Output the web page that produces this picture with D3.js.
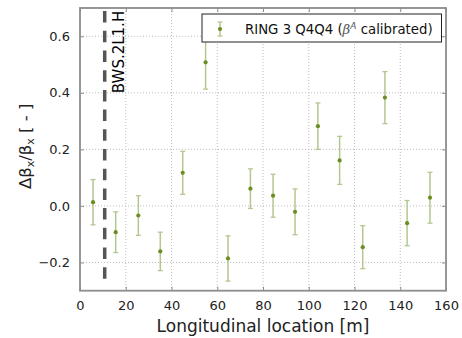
<!DOCTYPE html>
<html><head><meta charset="utf-8">
<script src="https://cdn.jsdelivr.net/npm/d3@7"></script>
<style>body{margin:0;background:#fff;} svg{display:block;font-family:"DejaVu Sans",sans-serif;}</style>
</head><body>
<svg id="c" width="462" height="338"></svg>
<script>
const locations = [5.7, 15.6, 25.5, 35.1, 44.9, 54.9, 64.7, 74.5, 84.4, 94.0, 104.0, 113.5, 123.6, 133.3, 143.0, 153.0];
const values = [0.013, -0.093, -0.034, -0.161, 0.117, 0.508, -0.186, 0.061, 0.036, -0.021, 0.282, 0.161, -0.146, 0.383, -0.061, 0.029];
const errors = [0.080, 0.072, 0.070, 0.068, 0.076, 0.095, 0.080, 0.070, 0.076, 0.081, 0.082, 0.085, 0.076, 0.092, 0.080, 0.090];
const xTicks = [0, 20, 40, 60, 80, 100, 120, 140, 160];
const yTicks = [-0.2, 0.0, 0.2, 0.4, 0.6];
const markerLocation = 10.8;
const markerLabel = "BWS.2L1.H";
const seriesName = "RING 3 Q4Q4";

const svg = d3.select("#c");
const L = 80, R = 446, T = 8, B = 290.7;
const x = d3.scaleLinear().domain([0, 160]).range([L, R]);
const y = d3.scaleLinear().domain([-0.3, 0.7]).range([B, T]);
const col = "#6b8e23";
const errCol = "#b3c78f";
const spine = "#8c8c8c";

// grid
const g = svg.append("g");
g.selectAll(".gx").data(xTicks.slice(1, -1)).join("line")
  .attr("x1", d => x(d)).attr("x2", d => x(d)).attr("y1", T).attr("y2", B)
  .attr("stroke", "#bdbdbd").attr("stroke-width", 1).attr("stroke-dasharray", "1,2");
g.selectAll(".gy").data(yTicks).join("line")
  .attr("y1", d => y(d)).attr("y2", d => y(d)).attr("x1", L).attr("x2", R)
  .attr("stroke", "#bdbdbd").attr("stroke-width", 1).attr("stroke-dasharray", "1,2");

// axes with inward ticks
const xa = svg.append("g").attr("transform", `translate(0,${B})`)
  .call(d3.axisBottom(x).tickValues(xTicks).tickSizeInner(-4).tickSizeOuter(0).tickPadding(10).tickFormat(d3.format("d")));
const xt = svg.append("g").attr("transform", `translate(0,${T})`)
  .call(d3.axisTop(x).tickValues(xTicks).tickSizeInner(-4).tickSizeOuter(0).tickFormat(""));
const ya = svg.append("g").attr("transform", `translate(${L},0)`)
  .call(d3.axisLeft(y).tickValues(yTicks).tickSizeInner(-4).tickSizeOuter(0).tickPadding(10)
    .tickFormat(d => d3.format(".1f")(d).replace("-", "\u2212")));
const yr = svg.append("g").attr("transform", `translate(${R},0)`)
  .call(d3.axisRight(y).tickValues(yTicks).tickSizeInner(-4).tickSizeOuter(0).tickFormat(""));
[xa, xt, ya, yr].forEach(a => {
  a.select(".domain").remove();
  a.selectAll(".tick line").attr("stroke", spine).attr("stroke-width", 1);
  a.selectAll("text").attr("font-size", 13).attr("fill", "#222").attr("font-family", "DejaVu Sans");
});
// spines
svg.append("rect").attr("x", L).attr("y", T).attr("width", R - L).attr("height", B - T)
  .attr("fill", "none").attr("stroke", spine).attr("stroke-width", 1.8);

// vertical dashed marker
svg.append("line").attr("x1", x(markerLocation)).attr("x2", x(markerLocation))
  .attr("y1", y(0.689)).attr("y2", y(-0.265))
  .attr("stroke", "#555").attr("stroke-width", 3.5).attr("stroke-dasharray", "11.5,8.2");
svg.append("text").attr("transform", `translate(${x(markerLocation) + 19},${y(0.69)}) rotate(-90)`)
  .attr("text-anchor", "end").attr("font-size", 15).attr("fill", "#000").text(markerLabel);

// error bars
const eb = svg.append("g");
const pts = locations.map((d, i) => ({x: d, v: values[i], e: errors[i]}));
eb.selectAll(".eb").data(pts).join("line")
  .attr("x1", d => x(d.x)).attr("x2", d => x(d.x)).attr("y1", d => y(d.v - d.e)).attr("y2", d => y(d.v + d.e))
  .attr("stroke", errCol).attr("stroke-width", 1.5);
["top", "bot"].forEach(k => {
  eb.selectAll(".c" + k).data(pts).join("line")
    .attr("x1", d => x(d.x) - 2.5).attr("x2", d => x(d.x) + 2.5)
    .attr("y1", d => y(k === "top" ? d.v + d.e : d.v - d.e)).attr("y2", d => y(k === "top" ? d.v + d.e : d.v - d.e))
    .attr("stroke", errCol).attr("stroke-width", 1.3);
});
eb.selectAll("circle").data(pts).join("circle")
  .attr("cx", d => x(d.x)).attr("cy", d => y(d.v)).attr("r", 2.1).attr("fill", col);

// legend
const lg = svg.append("g");
lg.append("rect").attr("x", 202).attr("y", 14).attr("width", 239.5).attr("height", 28)
  .attr("fill", "#fff").attr("stroke", "#222").attr("stroke-width", 1);
lg.append("line").attr("x1", 220).attr("x2", 220).attr("y1", 22).attr("y2", 36).attr("stroke", errCol).attr("stroke-width", 1.5);
lg.append("line").attr("x1", 217.5).attr("x2", 222.5).attr("y1", 22).attr("y2", 22).attr("stroke", errCol).attr("stroke-width", 1.3);
lg.append("line").attr("x1", 217.5).attr("x2", 222.5).attr("y1", 36).attr("y2", 36).attr("stroke", errCol).attr("stroke-width", 1.3);
lg.append("circle").attr("cx", 220).attr("cy", 29).attr("r", 2.1).attr("fill", col);
const lt = lg.append("text").attr("x", 245).attr("y", 33.5).attr("font-size", 13.3).attr("fill", "#111");
lt.append("tspan").text(seriesName + " (");
lt.append("tspan").attr("font-style", "italic").attr("font-family", "DejaVu Serif").attr("fill", "#555").text("\u03b2");
lt.append("tspan").attr("font-size", 9).attr("dy", -5).attr("fill", "#555").attr("font-style", "italic").text("A");
lt.append("tspan").attr("dy", 5).text(" calibrated)");

// axis labels
svg.append("text").attr("x", (L + R) / 2).attr("y", 332).attr("text-anchor", "middle")
  .attr("font-size", 17).attr("fill", "#222").text("Longitudinal location [m]");
const yl = svg.append("text").attr("transform", `translate(31,${(T + B) / 2 - 3}) rotate(-90)`)
  .attr("text-anchor", "middle").attr("font-size", 16.5).attr("fill", "#222");
yl.append("tspan").text("\u0394\u03b2");
yl.append("tspan").attr("font-size", 11).attr("dy", 3).text("x");
yl.append("tspan").attr("dy", -3).text("/\u03b2");
yl.append("tspan").attr("font-size", 11).attr("dy", 3).text("x");
yl.append("tspan").attr("dy", -3).text(" [ - ]");
</script>
</body></html>
